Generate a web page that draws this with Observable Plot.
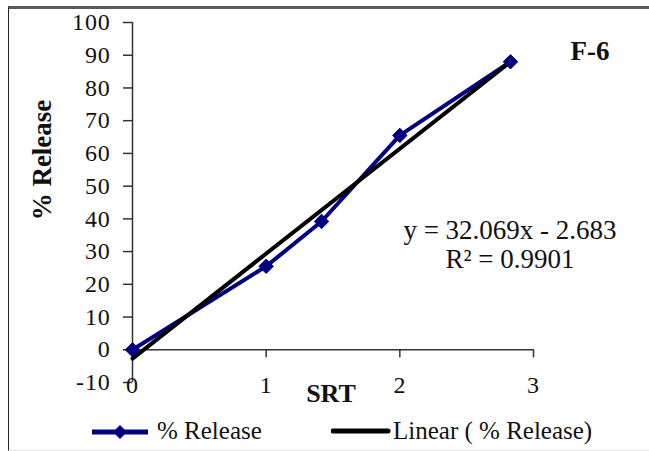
<!DOCTYPE html>
<html>
<head>
<meta charset="utf-8">
<script src="https://cdn.jsdelivr.net/npm/d3@7"></script>
<script src="https://cdn.jsdelivr.net/npm/@observablehq/plot@0.6"></script>
<style>
  html, body { margin: 0; padding: 0; background: #fff; }
  #page { position: relative; width: 649px; height: 451px; overflow: hidden; font-family: "Liberation Serif", "Times New Roman", serif; color: #111; }
  #frame { position: absolute; left: 8px; top: 6px; right: -4px; height: 441px;
           border-top: 3px solid #5a5a5a; border-left: 1px solid #222; border-bottom: 1px solid #e2e2e2; }
  #chart { position: absolute; left: 0; top: 0; }
  .lbl { position: absolute; white-space: nowrap; }
  .legend-item { position: absolute; top: 419px; height: 24px; display: flex; align-items: center; font-size: 25px; }
  .legend-item svg { display: block; }
</style>
</head>
<body>
<div id="page">
  <div id="frame"></div>
  <div id="chart"></div>
  <div class="legend-item" style="left:90px">
    <svg width="62" height="20"><line x1="2" x2="58" y1="11" y2="11" stroke="#000080" stroke-width="5"/><path d="M30,4 L37,11 L30,18 L23,11 Z" fill="#000080"/></svg>
    <span style="margin-left:5px">% Release</span>
  </div>
  <div class="legend-item" style="left:331px">
    <svg width="60" height="20"><line x1="2" x2="57" y1="10" y2="10" stroke="#000" stroke-width="5" stroke-linecap="round"/></svg>
    <span style="margin-left:2px">Linear ( % Release)</span>
  </div>
</div>
<script>
// Square root of time (SRT) and cumulative drug release (%) for formulation F-6
const srt = [0, 1, 1.414, 2, 2.828];
const release = [0, 25.5, 39.2, 65.5, 88.0];

// Least-squares trendline as reported on the chart
const slope = 32.069;
const intercept = -2.683;
const r2 = 0.9901;

const xTicks = [0, 1, 2, 3];
const yTicks = [-10, 0, 10, 20, 30, 40, 50, 60, 70, 80, 90, 100];
const formulation = "F-6";

const points = srt.map((x, i) => ({x, y: release[i]}));
const trendX = [d3.min(srt), d3.max(srt)];
const trend = trendX.map(x => ({x, y: slope * x + intercept}));

const navy = "#000080";
const axisColor = "#333";

// short downward tick below the x axis line
const tickDown = { draw(context, l) { context.moveTo(0, 0); context.lineTo(0, l); } };

const chart = Plot.plot({
  width: 649,
  height: 410,
  marginLeft: 132,
  marginRight: 116,
  marginTop: 22,
  marginBottom: 28,
  x: { domain: [xTicks[0], xTicks[xTicks.length - 1]], axis: null },
  y: { domain: [yTicks[0], yTicks[yTicks.length - 1]] },
  style: { fontFamily: "Liberation Serif, Times New Roman, serif", fontSize: "24px", color: "#111", background: "transparent", overflow: "visible", letterSpacing: "0.8px" },
  marks: [
    Plot.axisY({ ticks: yTicks, tickFormat: d => String(d), tickSize: 9, tickPadding: 13, label: null, fontSize: 24, stroke: axisColor, strokeWidth: 1.5 }),
    Plot.ruleX([0], { stroke: axisColor, strokeWidth: 1.5 }),
    Plot.ruleY([0], { stroke: axisColor, strokeWidth: 1.5 }),
    Plot.vector(xTicks, { x: d => d, y: 0, length: 7, rotate: 0, anchor: "start", shape: tickDown, stroke: axisColor, strokeWidth: 1.5 }),
    Plot.text(xTicks, { x: d => d, frameAnchor: "bottom", dy: 3, lineAnchor: "middle", text: d => String(d), fontSize: 24 }),
    Plot.line(points, { x: "x", y: "y", stroke: navy, strokeWidth: 4 }),
    Plot.line(trend, { x: "x", y: "y", stroke: "#000", strokeWidth: 4 }),
    Plot.dot(points, { x: "x", y: "y", symbol: "diamond2", r: 6.5, fill: navy, stroke: navy, strokeWidth: 1 })
  ]
});
document.getElementById("chart").appendChild(chart);

// axis titles, formulation tag and regression equation
const page = document.getElementById("page");
function addLabel(text, css) {
  const el = document.createElement("div");
  el.className = "lbl";
  el.textContent = text;
  Object.assign(el.style, css);
  page.appendChild(el);
  return el;
}
addLabel("% Release", { left: "42px", top: "160px", fontSize: "27px", fontWeight: "bold",
  transform: "translate(-50%, -50%) rotate(-90deg)" });
addLabel("SRT", { left: "331px", top: "394px", fontSize: "26px", fontWeight: "bold", transform: "translate(-50%, -50%)" });
addLabel(formulation, { left: "590px", top: "51px", fontSize: "27px", fontWeight: "bold", transform: "translate(-50%, -50%)" });
const sign = intercept < 0 ? "-" : "+";
addLabel(`y = ${slope}x ${sign} ${Math.abs(intercept)}`, { left: "510px", top: "230px", fontSize: "27px", transform: "translate(-50%, -50%)" });
addLabel(`R² = ${r2}`, { left: "510px", top: "259px", fontSize: "27px", transform: "translate(-50%, -50%)" });
</script>
</body>
</html>
